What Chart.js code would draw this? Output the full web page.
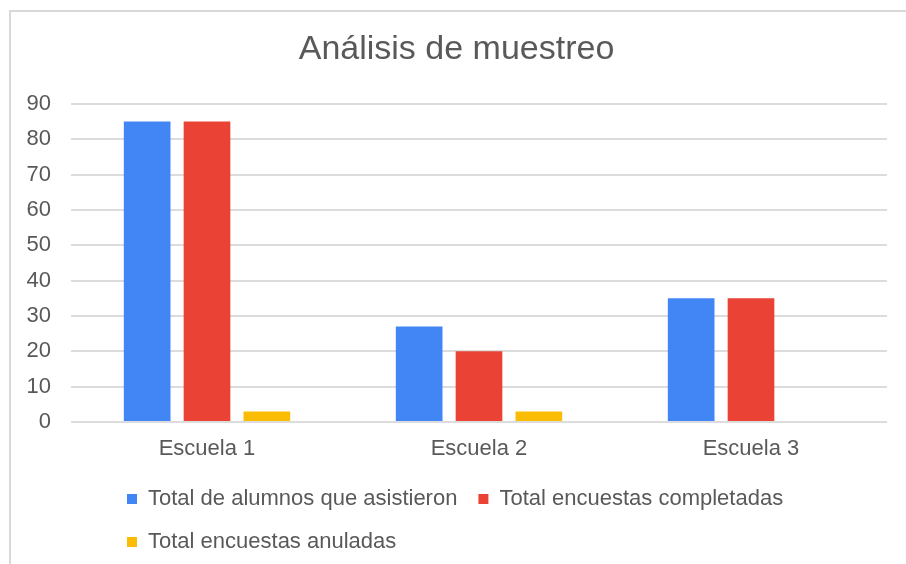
<!DOCTYPE html>
<html>
<head>
<meta charset="utf-8">
<script src="https://cdn.jsdelivr.net/npm/chart.js@4"></script>
<style>
    body { margin: 0; background: #ffffff; }
    #wrap { width: 906px; height: 564px; }
</style>
</head>
<body>
<div id="wrap"><canvas id="muestreoChart" width="906" height="564"></canvas></div>
<script>
// Data
const categories = ['Escuela 1', 'Escuela 2', 'Escuela 3'];
const asistieron = [85, 27, 35];
const completadas = [85, 20, 35];
const anuladas = [3, 3, 0];
const seriesNames = [
    'Total de alumnos que asistieron',
    'Total encuestas completadas',
    'Total encuestas anuladas'
];

const textColor = '#595959';
const fontFamily = '"Liberation Sans", Arial, sans-serif';

// Outer frame like the spreadsheet chart box
const frameBorder = {
    id: 'frameBorder',
    beforeDraw(chart) {
        const ctx = chart.ctx;
        ctx.save();
        ctx.strokeStyle = '#d9d9d9';
        ctx.lineWidth = 2;
        ctx.strokeRect(10, 11, 1000, 1000);
        ctx.restore();
    }
};

// Move legend block so rows start at the same left edge
const legendShift = {
    id: 'legendShift',
    afterLayout(chart) {
        const lg = chart.legend;
        const dx = 80, dy = 7;
        lg.left += dx;
        lg.right += dx;
        lg.top += dy;
        lg.bottom += dy;
    }
};

new Chart(document.getElementById('muestreoChart'), {
    type: 'bar',
    data: {
        labels: categories,
        datasets: [
            { label: seriesNames[0], data: asistieron, backgroundColor: '#4285F4' },
            { label: seriesNames[1], data: completadas, backgroundColor: '#EA4335' },
            { label: seriesNames[2], data: anuladas, backgroundColor: '#FBBC04' }
        ]
    },
    options: {
        responsive: false,
        animation: false,
        categoryPercentage: 0.66,
        barPercentage: 0.78,
        layout: {
            padding: { top: 10, left: 26, right: 19, bottom: 8 }
        },
        plugins: {
            title: {
                display: true,
                text: 'Análisis de muestreo',
                color: textColor,
                font: { family: fontFamily, size: 34, weight: 'normal' },
                padding: { top: 19, bottom: 34 }
            },
            legend: {
                position: 'bottom',
                align: 'start',
                labels: {
                    color: textColor,
                    font: { family: fontFamily, size: 22 },
                    boxWidth: 10,
                    boxHeight: 10,
                    padding: 21
                }
            },
            tooltip: { enabled: false }
        },
        scales: {
            x: {
                grid: { display: false, drawTicks: false },
                border: { display: false },
                ticks: {
                    color: textColor,
                    font: { family: fontFamily, size: 22 },
                    padding: 14
                },
                afterFit(scale) {
                    scale.height = 38;
                }
            },
            y: {
                min: 0,
                max: 90,
                grid: { color: '#dcdcdc', lineWidth: 2, drawTicks: false },
                border: { display: false },
                ticks: {
                    stepSize: 10,
                    color: textColor,
                    font: { family: fontFamily, size: 22 },
                    padding: 20
                },
                afterFit(scale) {
                    scale.width = 45;
                }
            }
        }
    },
    plugins: [frameBorder, legendShift]
});
</script>
</body>
</html>
